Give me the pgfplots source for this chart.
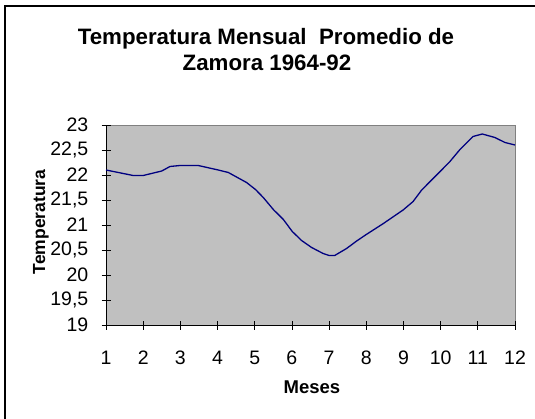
\documentclass[border=0pt]{standalone}
\usepackage{pgfplots}
\pgfplotsset{compat=1.18}
\usepackage{fontspec}
\setmainfont{Liberation Sans}
\definecolor{plotgray}{RGB}{192,192,192}
\definecolor{framegray}{RGB}{128,128,128}
\definecolor{linenavy}{RGB}{0,0,128}
\newcommand{\tickfont}{\fontsize{19.5}{23}\selectfont}
\begin{document}
\begin{tikzpicture}[x=1pt,y=1pt]
\useasboundingbox (0,0) rectangle (535,418);
\draw[line width=1.5pt,black] (5,-2) -- (5,412) -- (540,412);
\node[anchor=base,font=\fontsize{22.3}{26}\selectfont\bfseries] at (266,373) {Temperatura Mensual\ \ Promedio de};
\node[anchor=base,font=\fontsize{22.3}{26}\selectfont\bfseries] at (267,347) {Zamora 1964-92};
\node[anchor=base,font=\fontsize{18.5}{22}\selectfont\bfseries] at (312,25) {Meses};
\node[anchor=base,rotate=90,font=\fontsize{17.5}{21}\selectfont\bfseries] at (45,196) {Temperatura};
\begin{axis}[
  at={(106pt,93pt)}, anchor=south west,
  width=409pt, height=200pt, scale only axis,
  xmin=1, xmax=12, ymin=19, ymax=23,
  xtick={1,2,...,12},
  ytick={19,19.5,...,23},
  yticklabels={19,{19,5},20,{20,5},21,{21,5},22,{22,5},23},
  xticklabels={1,2,3,4,5,6,7,8,9,10,11,12},
  axis lines*=left,
  axis line style={-, black, line width=1pt},
  axis background/.style={fill=plotgray, draw=framegray, line width=0.8pt},
  tick align=center,
  major tick length=9pt,
  tick style={black, line width=0.8pt},
  yticklabel style={font=\tickfont, anchor=east, inner sep=0pt, xshift=-13pt},
  xticklabel style={font=\tickfont, anchor=north, inner sep=0pt, yshift=-21pt},
  clip=false,
]
\addplot[linenavy, line width=1.3pt] coordinates {
(1,22.10) (1.73,21.99) (2.0,21.99) (2.5,22.08) (2.72,22.17) (2.99,22.19)
(3.48,22.19) (4.02,22.10) (4.29,22.05) (4.78,21.85) (5.02,21.71) (5.23,21.55)
(5.5,21.31) (5.77,21.11) (6.01,20.87) (6.26,20.69) (6.53,20.55) (6.84,20.43)
(7.0,20.39) (7.15,20.39) (7.47,20.53) (7.74,20.68) (8.0,20.81) (8.46,21.03)
(8.99,21.30) (9.26,21.47) (9.49,21.70) (10.0,22.08) (10.25,22.27) (10.52,22.51)
(10.87,22.77) (11.12,22.82) (11.46,22.75) (11.73,22.65) (12,22.60)
};
\end{axis}
\end{tikzpicture}
\end{document}
